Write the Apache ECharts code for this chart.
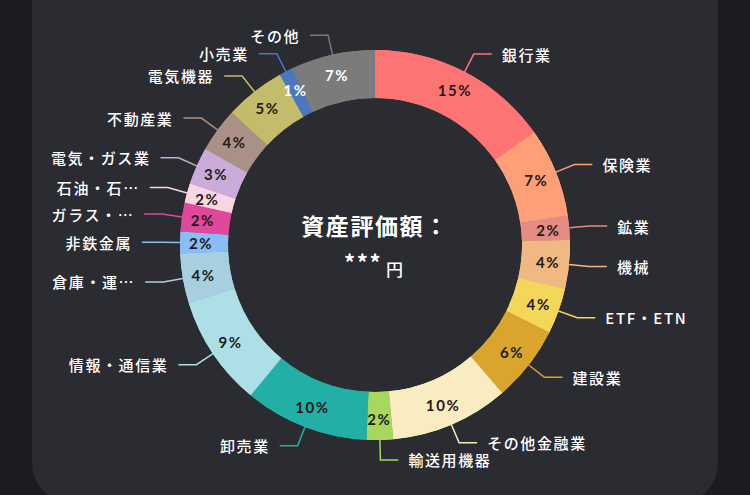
<!DOCTYPE html>
<html>
<head>
<meta charset="utf-8">
<script src="https://cdn.jsdelivr.net/npm/echarts@6/dist/echarts.min.js"></script>
<style>
html, body { margin: 0; padding: 0; background: #1c1b20; overflow: hidden; }
#card { position: absolute; left: 32px; top: -60px; width: 686px; height: 563px; background: #2b2b32; border-radius: 40px; }
#chart { position: absolute; left: 0; top: 0; width: 750px; height: 495px; }
#chart text { letter-spacing: 1.6px; }
</style>
</head>
<body>
<div id="card"></div>
<div id="chart"></div>
<script>
// 業種別の構成（時計回り、上から）
var names = ['銀行業', '保険業', '鉱業', '機械', 'ETF・ETN', '建設業', 'その他金融業', '輸送用機器', '卸売業',
    '情報・通信業', '倉庫・運…', '非鉄金属', 'ガラス・…', '石油・石…', '電気・ガス業', '不動産業', '電気機器', '小売業', 'その他'];
var values = [15.2, 7.4, 2.0, 4.0, 3.8, 6.3, 9.8, 2.2, 10.3, 9.2, 4.1, 1.8, 2.4, 1.6, 3.1, 3.7, 5.0, 1.1, 7.0];
var colors = ['#fe7474', '#fe9f78', '#e48b84', '#f0b983', '#f4d65b', '#d9a52c', '#f8ecc0', '#a7d85b', '#22b0a6',
    '#ade0e6', '#a8cfe0', '#88bdf7', '#e0489c', '#f8d6e0', '#c9acd9', '#a99285', '#c2bc6b', '#4a78c0', '#7b7b7b'];
var whiteText = ['小売業', 'その他'];

var chart = echarts.init(document.getElementById('chart'), null, {renderer: 'svg'});

function buildData(inside) {
    var data = [];
    for (var i = 0; i < names.length; i++) {
        var item = {name: names[i], value: values[i], itemStyle: {color: colors[i]}};
        if (inside) {
            item.label = {color: whiteText.indexOf(names[i]) >= 0 ? '#ffffff' : '#221a1a'};
        } else {
            item.labelLine = {lineStyle: {color: colors[i]}};
        }
        data.push(item);
    }
    return data;
}

var option = {
    title: {
        text: '資産評価額：',
        subtext: '{a|***}{b|円}',
        left: 'center',
        top: 208,
        itemGap: 14,
        textStyle: {color: '#ffffff', fontSize: 23, fontWeight: 'bold', fontFamily: 'Noto Sans CJK JP'},
        subtextStyle: {
            rich: {
                a: {color: '#ffffff', fontSize: 22, fontWeight: 'bold', fontFamily: 'Noto Sans CJK JP', verticalAlign: 'top', padding: [0, 7, 0, 0]},
                b: {color: '#ffffff', fontSize: 17, fontWeight: 500, fontFamily: 'Noto Sans CJK JP', padding: [10, 0, 0, 0]}
            }
        }
    },
    series: [
        {
            type: 'pie',
            radius: [147, 195],
            center: [375, 245],
            startAngle: 90,
            avoidLabelOverlap: false,
            label: {
                show: true,
                position: 'outside',
                formatter: '{b}',
                color: '#ffffff',
                fontSize: 15,
                fontWeight: 500,
                fontFamily: 'Noto Sans CJK JP',
                distanceToLabelLine: 10
            },
            labelLine: {show: true, length: 20, length2: 18, smooth: false, lineStyle: {width: 1.5}},
            data: buildData(false)
        },
        {
            type: 'pie',
            radius: [147, 195],
            center: [375, 245],
            startAngle: 90,
            silent: true,
            label: {
                show: true,
                position: 'inside',
                formatter: function (p) { return Math.round(p.percent) + '%'; },
                fontSize: 15,
                fontWeight: 'bold',
                fontFamily: 'Lato'
            },
            labelLine: {show: false},
            data: buildData(true)
        }
    ]
};
chart.setOption(option);
</script>
</body>
</html>
